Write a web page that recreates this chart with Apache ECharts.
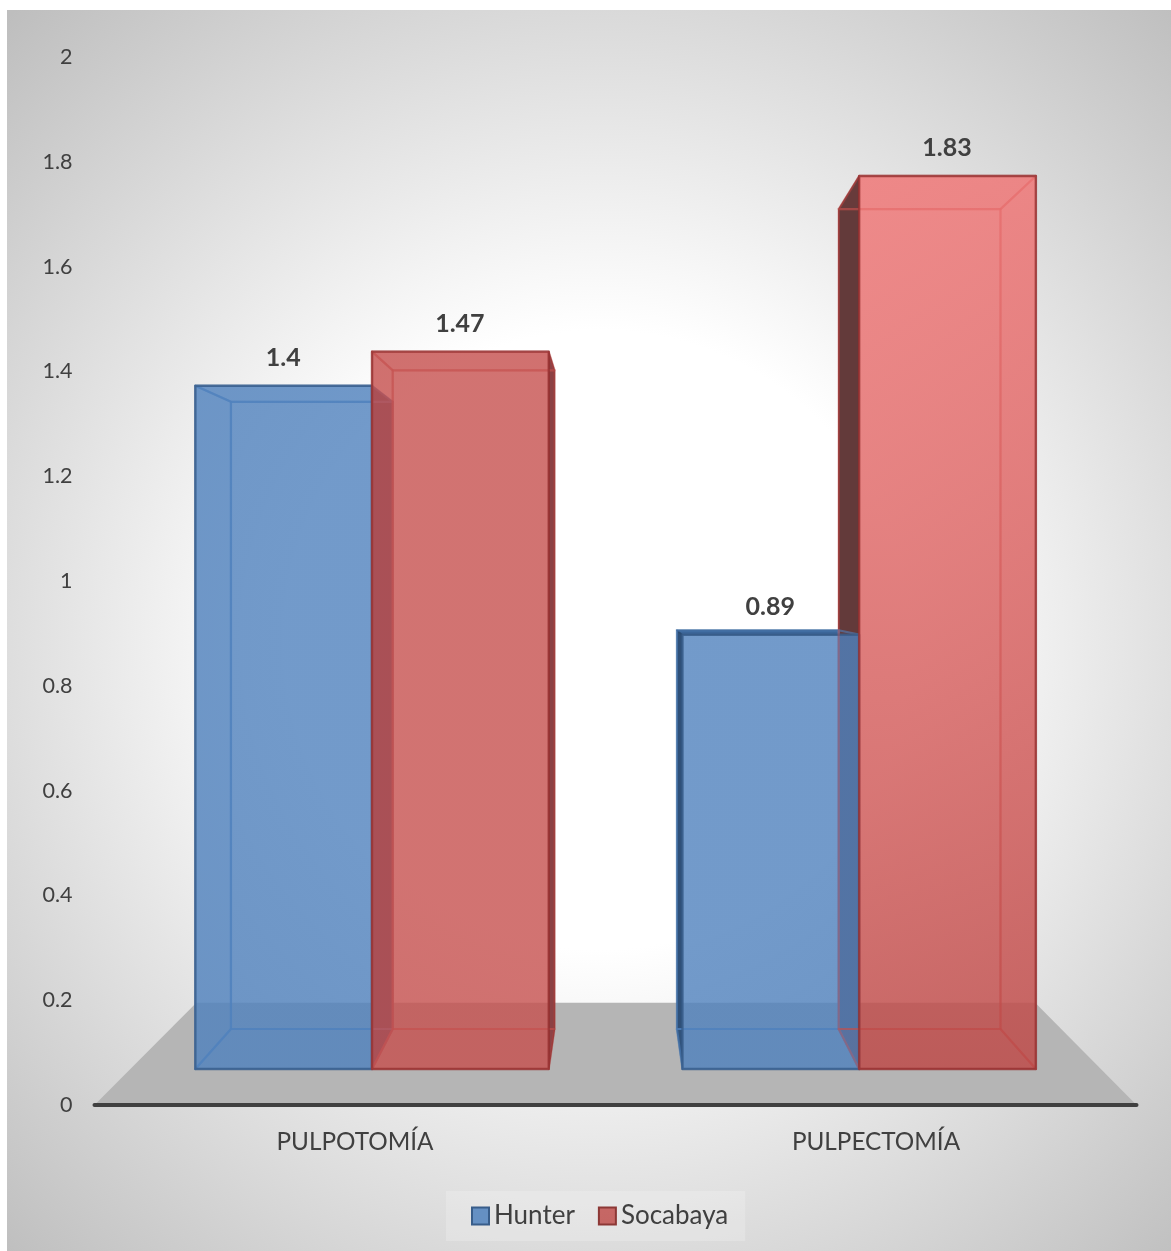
<!DOCTYPE html>
<html><head><meta charset="utf-8">
<style>html,body{margin:0;padding:0;background:#fff}#c{width:1171px;height:1251px}</style>
<script src="https://cdn.jsdelivr.net/npm/echarts@6/dist/echarts.min.js"></script>
</head><body><div id="c"></div>
<script>
const categories = ['PULPOTOMÍA', 'PULPECTOMÍA'];
const hunter = [1.4, 0.89];
const socabaya = [1.47, 1.83];
const yTicks = [0, 0.2, 0.4, 0.6, 0.8, 1, 1.2, 1.4, 1.6, 1.8, 2];

const FONT = 'Lato, Carlito, "Open Sans", sans-serif';
const TXT = '#404040';
// perspective of the 3-D scene: vanishing point and depth factors
const VX = 617, VY = 581, KX_FRONT = 0.935, KY_FRONT = 0.9313, KX_BACK = 0.856, KY_BACK = 0.855;
const FLOOR_K = 0.805;
const BAR_W = 189;

const pal = {
  Hunter: {rgb: '79,129,189', front: '79,129,189', edge: '56,93,138', dark: '#3c6699', darkSide: '#2f5078', darkEdge: 'rgba(39,73,111,0.8)', innerA: 0.6, base: 3},
  Socabaya: {rgb: '192,80,77', front: '198,80,78', edge: '150,50,50', dark: '#633a3a', darkSide: '#8c4144', darkEdge: 'rgba(120,32,32,0.85)', innerA: 0.45, base: 6}
};
function prj(p, kx, ky) { return [VX + kx * (p[0] - VX), VY + ky * (p[1] - VY)]; }

function floorItem(params, api) {
  const a = api.coord([0, 0]), b = api.coord([1, 0]), s = api.size([1, 0]);
  const l = a[0] - s[0] / 2, r = b[0] + s[0] / 2, y = a[1];
  const bl = prj([l, y], FLOOR_K, FLOOR_K), br = prj([r, y], FLOOR_K, FLOOR_K);
  return {type: 'polygon', z2: 0, shape: {points: [[l, y], [r, y], br, bl]},
    style: {fill: '#b5b5b5'}};
}

function barItem(name, sign) {
  return function (params, api) {
    const c = pal[name];
    const cat = api.value(0), v = api.value(1);
    const base = api.coord([cat, 0]), top = api.coord([cat, v]);
    const x0 = sign < 0 ? base[0] - BAR_W : base[0];
    const x1 = x0 + BAR_W;
    const P = (x, y, back) => back ? prj([x, y], KX_BACK, KY_BACK) : prj([x, y], KX_FRONT, KY_FRONT);
    const fbl = P(x0, base[1]), fbr = P(x1, base[1]), ftl = P(x0, top[1]), ftr = P(x1, top[1]);
    const bbl = P(x0, base[1], 1), bbr = P(x1, base[1], 1), btl = P(x0, top[1], 1), btr = P(x1, top[1], 1);
    const z = c.base;
    const innerEdge = `rgba(${c.rgb},${c.innerA})`;
    const edge = `rgba(${c.edge},0.8)`;
    const inner = {fill: `rgba(${c.rgb},0.06)`, stroke: innerEdge, lineWidth: 2.2, lineJoin: 'round'};
    const face = (pts, isOuter, col) => ({type: 'polygon', z2: isOuter ? 1 : z,
      shape: {points: pts},
      style: isOuter ? {fill: col, stroke: c.darkEdge, lineWidth: 1.4, lineJoin: 'round'} : inner});
    const leftOuter = fbl[0] > VX, rightOuter = fbr[0] < VX, topOuter = ftl[1] > VY;
    const bright = name === 'Socabaya' && leftOuter;
    const stops = bright
      ? ['rgba(241,115,115,0.8)', 'rgba(190,70,68,0.8)']
      : [`rgba(${c.front},0.8)`, `rgba(${c.front},0.8)`];
    const children = [
      {type: 'polygon', z2: z, shape: {points: [bbl, bbr, btr, btl]},
        style: {fill: 'transparent', stroke: innerEdge, lineWidth: 2.2}},
      face([bbl, fbl, ftl, btl], leftOuter, name === 'Hunter' ? c.darkSide : c.dark),
      face([bbr, fbr, ftr, btr], rightOuter, c.darkSide),
      face([btl, btr, ftr, ftl], topOuter, c.dark),
      face([bbl, bbr, fbr, fbl], false),
      {type: 'polygon', z2: z + 1, shape: {points: [fbl, fbr, ftr, ftl]},
        style: {
          fill: {type: 'linear', x: 0, y: 0, x2: 0, y2: 1, colorStops: [
            {offset: 0, color: stops[0]}, {offset: 1, color: stops[1]}]},
          stroke: edge, lineWidth: 2.4, lineJoin: 'round'
        }},
      {type: 'text', z2: 20, style: {
        x: (ftl[0] + ftr[0]) / 2 - 0.5, y: ftl[1] - 28, text: String(v),
        align: 'center', verticalAlign: 'middle',
        font: 'bold 25px ' + FONT, fill: TXT }}
    ];
    return {type: 'group', children};
  };
}

const chart = echarts.init(document.getElementById('c'), null, {renderer: 'canvas', width: 1171, height: 1251});
chart.setOption({
  animation: false,
  backgroundColor: '#fff',
  graphic: [{type: 'rect', z: -10, silent: true, shape: {x: 7, y: 10, width: 1164, height: 1241},
    style: {fill: {type: 'radial', x: 600, y: 640, r: 860, global: true, colorStops: [
      {offset: 0, color: '#ffffff'}, {offset: 0.36, color: '#ffffff'}, {offset: 1, color: '#bebebe'}]}}}],
  grid: {left: 94.5, top: 57, width: 1042, height: 1048, containLabel: false},
  xAxis: {type: 'category', data: categories, z: 10,
    axisLine: {show: true, lineStyle: {color: '#404040', width: 4, cap: 'round'}},
    axisTick: {show: false}, splitLine: {show: false},
    axisLabel: {fontFamily: FONT, fontSize: 24.3, color: TXT, margin: 25}},
  yAxis: {type: 'value', min: 0, max: 2, interval: 0.2, z: 10,
    axisLine: {show: false}, axisTick: {show: false}, splitLine: {show: false},
    axisLabel: {fontFamily: FONT, fontSize: 21.5, color: TXT, margin: 22, padding: [6, 0, 0, 0],
      customValues: yTicks, formatter: v => String(v)}},
  legend: {data: ['Hunter', 'Socabaya'], icon: 'rect', left: 446, top: 1191, itemWidth: 17, itemHeight: 17, itemGap: 23,
    padding: [12, 17, 12, 25], backgroundColor: 'rgba(255,255,255,0.2)',
    textStyle: {fontFamily: FONT, fontSize: 26, color: TXT, padding: [3, 0, 0, 0]}, selectedMode: false},
  series: [
    {name: 'Piso', type: 'custom', silent: true, coordinateSystem: 'cartesian2d', renderItem: floorItem, data: [[0, 0]], clip: false, encode: {x: 0, y: 1}},
    {name: 'Hunter', type: 'custom', silent: true, coordinateSystem: 'cartesian2d', renderItem: barItem('Hunter', -1),
      data: hunter.map((v, i) => [i, v]), clip: false, encode: {x: 0, y: 1},
      itemStyle: {color: 'rgba(79,129,189,0.85)', borderColor: '#385D8A', borderWidth: 2}},
    {name: 'Socabaya', type: 'custom', silent: true, coordinateSystem: 'cartesian2d', renderItem: barItem('Socabaya', 1),
      data: socabaya.map((v, i) => [i, v]), clip: false, encode: {x: 0, y: 1},
      itemStyle: {color: 'rgba(192,80,77,0.85)', borderColor: '#8C3836', borderWidth: 2}}
  ]
});
</script></body></html>
